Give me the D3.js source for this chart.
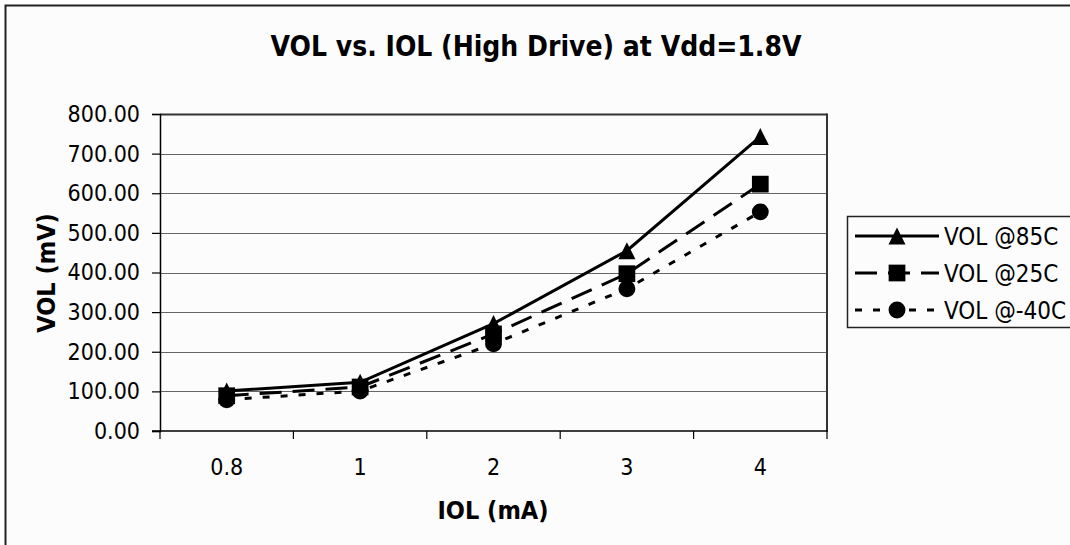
<!DOCTYPE html>
<html>
<head>
<meta charset="utf-8">
<script src="https://cdn.jsdelivr.net/npm/d3@7"></script>
<style>
  body { margin: 0; background: #ffffff; }
  svg { display: block; }
  text { font-family: "DejaVu Sans Condensed", "DejaVu Sans", sans-serif; fill: #000; }
</style>
</head>
<body>
<div id="chart"></div>
<script>
// chart data
var categories = ["0.8", "1", "2", "3", "4"];
var vol85 = [101, 123, 271, 455, 743];
var vol25 = [89, 111, 245, 397, 623];
var volM40 = [79, 101, 220, 359, 553];
var yTicks = [0, 100, 200, 300, 400, 500, 600, 700, 800];
var seriesNames = ["VOL @85C", "VOL @25C", "VOL @-40C"];

var width = 1070, height = 545;
var plot = {left: 160, right: 827, top: 114, bottom: 431};

// triangle as wide as it is tall, like the spreadsheet marker
var symbolTri = {
    draw: function (context, size) {
        var h = Math.sqrt(size);
        context.moveTo(0, -h / 2);
        context.lineTo(h / 2, h / 2);
        context.lineTo(-h / 2, h / 2);
        context.closePath();
    }
};

var svg = d3.select("#chart").append("svg")
    .attr("width", width)
    .attr("height", height);

// chart area with its frame
svg.append("rect")
    .attr("x", 5.5).attr("y", 5.5)
    .attr("width", width + 10).attr("height", height + 10)
    .attr("fill", "#fcfcfc")
    .attr("stroke", "#222")
    .attr("stroke-width", 2);

var x = d3.scaleBand()
    .domain(categories)
    .range([plot.left, plot.right]);

var y = d3.scaleLinear()
    .domain([0, 800])
    .range([plot.bottom, plot.top]);

// gridlines
svg.append("g")
    .selectAll("line")
    .data(yTicks.slice(1))
    .enter().append("line")
    .attr("x1", plot.left).attr("x2", plot.right)
    .attr("y1", function (d) { return Math.round(y(d)) + 0.5; })
    .attr("y2", function (d) { return Math.round(y(d)) + 0.5; })
    .attr("stroke", function (d) { return d === 800 ? "#333" : "#666"; })
    .attr("stroke-width", function (d) { return d === 800 ? 2 : 1.2; });

// plot frame right side
svg.append("line")
    .attr("x1", plot.right).attr("x2", plot.right)
    .attr("y1", plot.top - 0.5).attr("y2", plot.bottom)
    .attr("stroke", "#333").attr("stroke-width", 2);

// y axis
var yAxis = d3.axisLeft(y)
    .tickValues(yTicks)
    .tickSize(8)
    .tickPadding(12)
    .tickFormat(d3.format(".2f"));

var gy = svg.append("g")
    .attr("transform", "translate(" + plot.left + ",0)")
    .call(yAxis);
gy.select(".domain").attr("stroke", "#000").attr("stroke-width", 1.5);
gy.selectAll(".tick line").attr("stroke", "#000").attr("stroke-width", 1.2);
gy.selectAll(".tick text")
    .style("font-size", "23px")
    .style("font-family", "\"DejaVu Sans Condensed\", sans-serif")
    .attr("fill", "#000");

// x axis, ticks between categories
var xAxis = d3.axisBottom(x)
    .tickSize(0)
    .tickPadding(28);

var gx = svg.append("g")
    .attr("transform", "translate(0," + plot.bottom + ")")
    .call(xAxis);
gx.select(".domain").remove();
gx.selectAll(".tick text")
    .style("font-size", "23px")
    .style("font-family", "\"DejaVu Sans Condensed\", sans-serif")
    .attr("fill", "#000");

svg.append("line")
    .attr("x1", plot.left - 8).attr("x2", plot.right + 1)
    .attr("y1", plot.bottom).attr("y2", plot.bottom)
    .attr("stroke", "#000").attr("stroke-width", 1.5);

svg.append("g")
    .selectAll("line")
    .data(categories.concat(["end"]))
    .enter().append("line")
    .attr("x1", function (d, i) { return i < categories.length ? x(d) : x.range()[1]; })
    .attr("x2", function (d, i) { return i < categories.length ? x(d) : x.range()[1]; })
    .attr("y1", plot.bottom)
    .attr("y2", plot.bottom + 8)
    .attr("stroke", "#000")
    .attr("stroke-width", 1.2);

// titles
svg.append("text")
    .attr("x", 536).attr("y", 56)
    .attr("text-anchor", "middle")
    .style("font-size", "28px")
    .style("font-weight", "bold")
    .text("VOL vs. IOL (High Drive) at Vdd=1.8V");

svg.append("text")
    .attr("x", 493).attr("y", 519)
    .attr("text-anchor", "middle")
    .style("font-size", "25px")
    .style("font-weight", "bold")
    .text("IOL (mA)");

svg.append("text")
    .attr("transform", "translate(55,273) rotate(-90)")
    .attr("text-anchor", "middle")
    .style("font-size", "25px")
    .style("font-weight", "bold")
    .text("VOL (mV)");

// series
var series = [
    {name: seriesNames[0], values: vol85, dash: null, marker: symbolTri, size: 290},
    {name: seriesNames[1], values: vol25, dash: "22,11", marker: d3.symbolSquare, size: 280},
    {name: seriesNames[2], values: volM40, dash: "7,11", marker: d3.symbolCircle, size: 225}
];

var cx = function (i) { return x(categories[i]) + x.bandwidth() / 2; };

var line = d3.line()
    .x(function (d, i) { return cx(i); })
    .y(function (d) { return y(d); });

series.forEach(function (s) {
    svg.append("path")
        .datum(s.values)
        .attr("d", line)
        .attr("fill", "none")
        .attr("stroke", "#000")
        .attr("stroke-width", 3)
        .attr("stroke-dasharray", s.dash);
});

series.forEach(function (s) {
    svg.append("g")
        .selectAll("path")
        .data(s.values)
        .enter().append("path")
        .attr("transform", function (d, i) { return "translate(" + cx(i) + "," + y(d) + ")"; })
        .attr("d", d3.symbol().type(s.marker).size(s.size))
        .attr("fill", "#000");
});

// legend
var legend = svg.append("g").attr("transform", "translate(847,216)");
legend.append("rect")
    .attr("x", 0.5).attr("y", 0.5)
    .attr("width", 240).attr("height", 111)
    .attr("fill", "#fcfcfc")
    .attr("stroke", "#222")
    .attr("stroke-width", 1.5);

series.forEach(function (s, i) {
    var ry = 20 + i * 37;
    legend.append("line")
        .attr("x1", 8).attr("x2", 92)
        .attr("y1", ry).attr("y2", ry)
        .attr("stroke", "#000")
        .attr("stroke-width", 3)
        .attr("stroke-dasharray", s.dash);
    legend.append("path")
        .attr("transform", "translate(50," + ry + ")")
        .attr("d", d3.symbol().type(s.marker).size(s.size))
        .attr("fill", "#000");
    legend.append("text")
        .attr("x", 97).attr("y", ry + 9)
        .style("font-size", "24px")
        .text(s.name);
});
</script>
</body>
</html>
